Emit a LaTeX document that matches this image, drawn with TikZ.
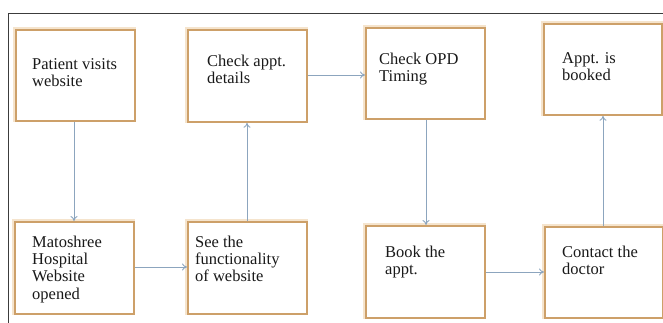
\documentclass[tikz,border=0pt]{standalone}
\usepackage{fontspec}
\setmainfont{Liberation Serif}
\usetikzlibrary{arrows.meta}
\definecolor{boxc}{RGB}{205,160,105}
\definecolor{glowc}{RGB}{245,228,205}
\definecolor{arrc}{RGB}{140,165,190}
\definecolor{framec}{RGB}{60,60,60}
\tikzset{
  stepbox/.style={draw=boxc, line width=1.8pt, fill=white, inner sep=0pt},
  boxtext/.style={anchor=north west, inner sep=0pt, align=left,
    font=\fontsize{16.5}{17.3}\selectfont, text=black!90},
  flow/.style={draw=arrc, line width=0.9pt, -{To[length=5pt,width=7pt]}},
}
\begin{document}
\begin{tikzpicture}[x=1pt,y=-1pt]
\useasboundingbox (0,0) rectangle (663,323);
\fill[white] (0,0) rectangle (663,323);
% frame
\draw[framec, line width=1pt] (8,323) -- (8,14) -- (663,14);
% boxes: (left,top) rectangle (right,bottom)
\newcommand{\mybox}[5]{%
  \draw[glowc, line width=4pt] (#2,#3) rectangle (#4,#5);
  \node[stepbox, minimum width={#4-#2}, minimum height={#5-#3}, anchor=north west] (#1) at (#2,#3) {};
}
\mybox{b1}{15}{29}{134}{120}
\mybox{b2}{187}{29}{306}{121}
\mybox{b3}{365}{27}{484}{118}
\mybox{b4}{543}{23}{661}{114}
\mybox{b5}{14}{221}{133}{313}
\mybox{b6}{187}{221}{306}{313}
\mybox{b7}{365}{225}{484}{317}
\mybox{b8}{544}{226}{662}{317}
% texts
\node[boxtext] (t1) at ([xshift=17pt,yshift=-29.5pt]b1.north west) {Patient visits\\website};
\node[boxtext] (t2) at ([xshift=20pt,yshift=-25.5pt]b2.north west) {Check appt.\\details};
\node[boxtext] (t3) at ([xshift=14pt,yshift=-25.5pt]b3.north west) {Check OPD\\Timing};
\node[boxtext] (t4) at ([xshift=19pt,yshift=-29.5pt]b4.north west) {Appt. is\\booked};
\node[boxtext] (t5) at ([xshift=18pt,yshift=-14.5pt]b5.north west) {Matoshree\\Hospital\\Website\\opened};
\node[boxtext] (t6) at ([xshift=8pt,yshift=-14.5pt]b6.north west) {See the\\functionality\\of website};
\node[boxtext] (t7) at ([xshift=20pt,yshift=-20.5pt]b7.north west) {Book the\\appt.};
\node[boxtext] (t8) at ([xshift=18pt,yshift=-19.5pt]b8.north west) {Contact the\\doctor};
% connectors
\draw[flow] (b1.south -| 74,0) -- (b5.north -| 74,0);
\draw[flow] (b5.east |- 0,267) -- (b6.west |- 0,267);
\draw[flow] (b6.north -| 247,0) -- (b2.south -| 247,0);
\draw[flow] (b2.east |- 0,75) -- (b3.west |- 0,75);
\draw[flow] (b3.south -| 426,0) -- (b7.north -| 426,0);
\draw[flow] (b7.east |- 0,272) -- (b8.west |- 0,272);
\draw[flow] (b8.north -| 603,0) -- (b4.south -| 603,0);
\end{tikzpicture}
\end{document}
